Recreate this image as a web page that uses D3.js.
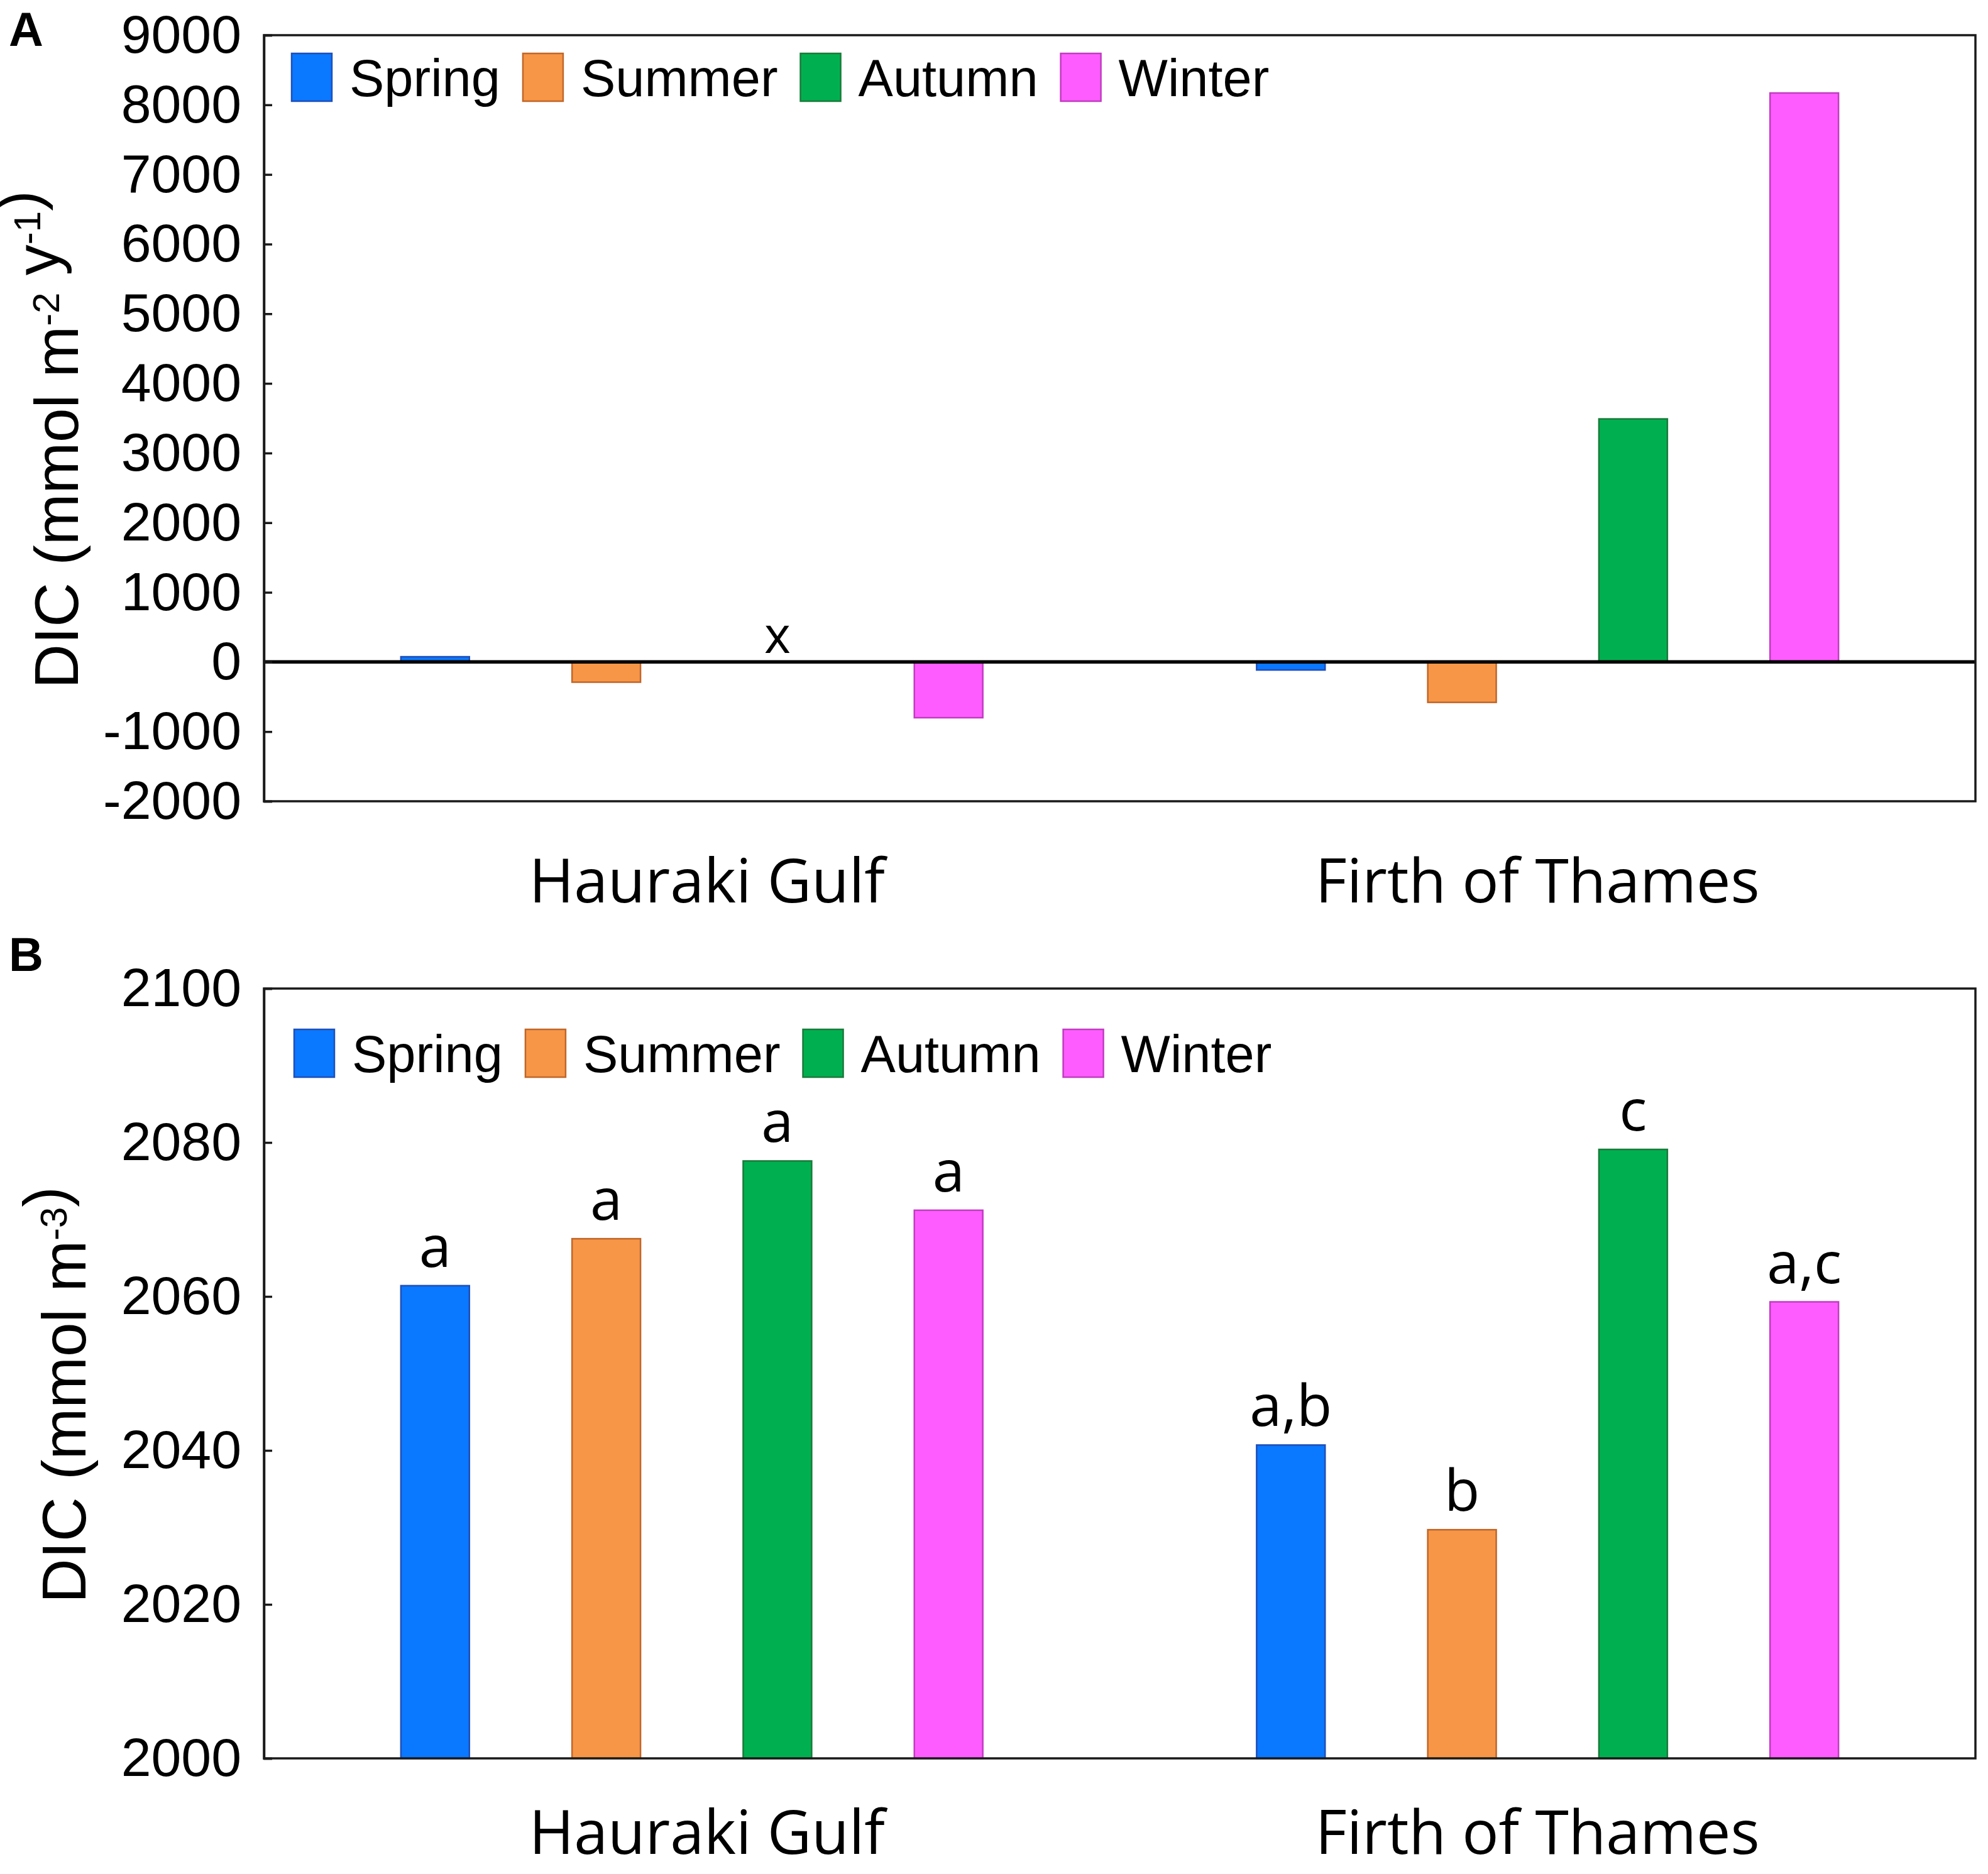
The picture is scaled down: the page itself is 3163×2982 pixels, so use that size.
<!DOCTYPE html>
<html>
<head>
<meta charset="utf-8">
<script src="https://cdn.jsdelivr.net/npm/d3@7"></script>
<style>
  body { margin: 0; background: #fff; }
  svg { display: block; }
</style>
</head>
<body>
<svg id="chart"></svg>
<script>
// Seasonal DIC, Hauraki Gulf vs Firth of Thames (panels A and B)

const SEASONS = ["Spring", "Summer", "Autumn", "Winter"];
const SITES = ["Hauraki Gulf", "Firth of Thames"];

const SEASON_FILL   = ["#0a78ff", "#f79646", "#00b050", "#ff5cff"];
const SEASON_STROKE = ["#1f4fb8", "#c0662a", "#1a7a3a", "#c03cc0"];

// Panel A: DIC flux (mmol m-2 y-1). null = no estimate (marked with "x")
const FLUX_HAURAKI = [75, -290, null, -800];
const FLUX_THAMES  = [-115, -580, 3490, 8170];
const FLUX_TICKS   = [-2000, -1000, 0, 1000, 2000, 3000, 4000, 5000, 6000, 7000, 8000, 9000];

// Panel B: DIC concentration (mmol m-3) with significance letters
const CONC_HAURAKI = [2061.4, 2067.5, 2077.6, 2071.2];
const CONC_THAMES  = [2040.7, 2029.7, 2079.1, 2059.3];
const CONC_TICKS   = [2000, 2020, 2040, 2060, 2080, 2100];
const LETTERS_HAURAKI = ["a", "a", "a", "a"];
const LETTERS_THAMES  = ["a,b", "b", "c", "a,c"];

const WIDTH = 3163, HEIGHT = 2982;
const LEFT = 420, RIGHT = 3143;
const ARIAL = "'Liberation Sans', Arial, Helvetica, sans-serif";
const CALIBRI = "'Open Sans', 'Noto Sans', sans-serif";
// the site names in the original sit a little off the band centres
const SITE_LABEL_SHIFT = [24, -16];

const svg = d3.select("#chart").attr("width", WIDTH).attr("height", HEIGHT);
svg.append("rect").attr("width", WIDTH).attr("height", HEIGHT).attr("fill", "#fff");

// shared x scales: one band per site, seasons spread inside each band
const xSite = d3.scaleBand().domain(SITES).range([LEFT, RIGHT]);
const xSeason = d3.scalePoint().domain(SEASONS).range([0, xSite.bandwidth()]).padding(1);
const barW = xSeason.step() * 0.4;

function rows(hg, ft, lh, lt) {
  const out = [];
  SEASONS.forEach((s, i) => {
    out.push({ site: SITES[0], season: s, i, value: hg[i], letter: lh ? lh[i] : null });
    out.push({ site: SITES[1], season: s, i, value: ft[i], letter: lt ? lt[i] : null });
  });
  return out;
}

function drawPanel(p) {
  const g = svg.append("g");
  const y = d3.scaleLinear().domain(p.domain).range([p.bottom, p.top]);
  const base = p.base;

  // bars
  const data = p.data.filter((d) => d.value != null);
  g.selectAll(null).data(data).join("rect")
    .attr("x", (d) => xSite(d.site) + xSeason(d.season) - barW / 2)
    .attr("width", barW)
    .attr("y", (d) => y(Math.max(d.value, base)))
    .attr("height", (d) => Math.abs(y(d.value) - y(base)))
    .attr("fill", (d) => SEASON_FILL[d.i])
    .attr("stroke", (d) => SEASON_STROKE[d.i])
    .attr("stroke-width", 2.5);

  // missing values
  g.selectAll(null).data(p.data.filter((d) => d.value == null)).join("text")
    .attr("x", (d) => xSite(d.site) + xSeason(d.season))
    .attr("y", y(0) - 14)
    .attr("text-anchor", "middle")
    .style("font-family", CALIBRI).style("font-size", "80px").style("fill", "#000")
    .text("x");

  // significance letters
  g.selectAll(null).data(data.filter((d) => d.letter)).join("text")
    .attr("x", (d) => xSite(d.site) + xSeason(d.season))
    .attr("y", (d) => y(d.value) - 30)
    .attr("text-anchor", "middle")
    .style("font-family", CALIBRI).style("font-size", "92px").style("fill", "#000")
    .text((d) => d.letter);

  if (p.zeroLine) {
    g.append("line")
      .attr("x1", LEFT).attr("x2", RIGHT)
      .attr("y1", y(0)).attr("y2", y(0))
      .attr("stroke", "#000").attr("stroke-width", 5.5);
  }

  // frame
  g.append("rect")
    .attr("x", LEFT).attr("y", p.top)
    .attr("width", RIGHT - LEFT).attr("height", p.bottom - p.top)
    .attr("fill", "none").attr("stroke", "#1a1a1a").attr("stroke-width", 3.5);

  // y axis: ticks point inward, labels outside
  const ax = g.append("g").attr("transform", `translate(${LEFT},0)`)
    .call(d3.axisLeft(y).tickValues(p.ticks).tickSize(-13).tickPadding(36)
      .tickFormat((v) => String(v)));
  ax.select(".domain").attr("stroke", "#1a1a1a").attr("stroke-width", 3.5);
  ax.selectAll(".tick line").attr("stroke", "#1a1a1a").attr("stroke-width", 3.5);
  ax.selectAll(".tick text")
    .style("font-family", ARIAL).style("font-size", "86px").style("fill", "#000");

  // y label with superscripts
  const lab = g.append("text")
    .attr("transform", `translate(${p.labelX},${(p.top + p.bottom) / 2 + 34}) rotate(-90)`)
    .attr("text-anchor", "middle")
    .style("font-family", ARIAL).style("font-size", "98px").style("fill", "#000");
  p.label.forEach((part) => {
    if (part.sup) {
      lab.append("tspan").attr("dy", -30).style("font-size", "60px").text(part.sup);
      lab.append("tspan").attr("dy", 30).text("");
    } else {
      lab.append("tspan").text(part.t);
    }
  });

  // site labels under the plot
  g.selectAll(null).data(SITES).join("text")
    .attr("x", (d, i) => xSite(d) + xSite.bandwidth() / 2 + SITE_LABEL_SHIFT[i])
    .attr("y", p.bottom + p.siteGap)
    .attr("text-anchor", "middle")
    .style("font-family", CALIBRI).style("font-size", "97px").style("fill", "#000")
    .text((d) => d);

  // legend inside the frame, laid out by text width
  let lx = p.legendX;
  SEASONS.forEach((s, i) => {
    g.append("rect")
      .attr("x", lx).attr("y", p.legendY)
      .attr("width", 64).attr("height", 76)
      .attr("fill", SEASON_FILL[i]).attr("stroke", SEASON_STROKE[i]).attr("stroke-width", 2.5);
    const t = g.append("text")
      .attr("x", lx + 92).attr("y", p.legendY + 68)
      .style("font-family", ARIAL).style("font-size", "83px").style("fill", "#000")
      .text(s);
    lx += 92 + t.node().getComputedTextLength() + 36;
  });

  // panel letter
  svg.append("text")
    .attr("x", 14).attr("y", p.letterY)
    .style("font-family", ARIAL).style("font-weight", "bold")
    .style("font-size", "76px").style("fill", "#000")
    .text(p.letter);
}

drawPanel({
  letter: "A", letterY: 73,
  top: 56, bottom: 1275,
  domain: [-2000, 9000], ticks: FLUX_TICKS, base: 0, zeroLine: true,
  data: rows(FLUX_HAURAKI, FLUX_THAMES),
  labelX: 124, siteGap: 161,
  label: [{ t: "DIC (mmol m" }, { sup: "-2" }, { t: " y" }, { sup: "-1" }, { t: ")" }],
  legendX: 464, legendY: 85,
});

drawPanel({
  letter: "B", letterY: 1545,
  top: 1573, bottom: 2798,
  domain: [2000, 2100], ticks: CONC_TICKS, base: 2000, zeroLine: false,
  data: rows(CONC_HAURAKI, CONC_THAMES, LETTERS_HAURAKI, LETTERS_THAMES),
  labelX: 136, siteGap: 152,
  label: [{ t: "DIC (mmol m" }, { sup: "-3" }, { t: ")" }],
  legendX: 468, legendY: 1638,
});
</script>
</body>
</html>
